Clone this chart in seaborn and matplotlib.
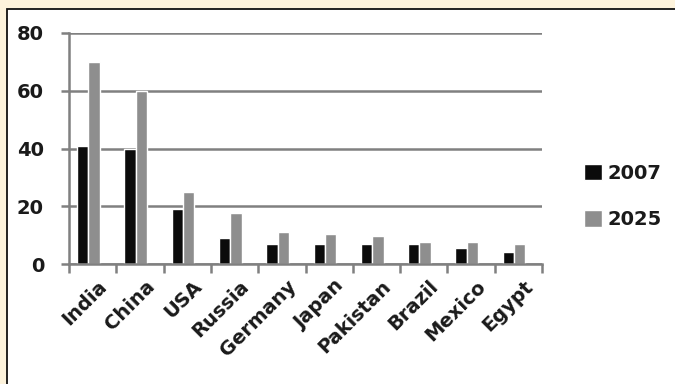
import matplotlib
matplotlib.use("Agg")
import matplotlib.pyplot as plt
from matplotlib.patches import Rectangle
from matplotlib.ticker import FixedLocator
from matplotlib.transforms import ScaledTranslation
import numpy as np
import pandas as pd
import seaborn as sns

countries = ["India", "China", "USA", "Russia", "Germany", "Japan",
             "Pakistan", "Brazil", "Mexico", "Egypt"]
values_2007 = [41, 40, 19, 9, 7, 7, 7, 7, 5.5, 4.3]
values_2025 = [70, 60, 25, 17.5, 11, 10.5, 9.8, 7.7, 7.7, 6.9]
years = ["2007", "2025"]
yticks = [0, 20, 40, 60, 80]

df = pd.DataFrame({
    "country": countries * 2,
    "year": [years[0]] * len(countries) + [years[1]] * len(countries),
    "value": values_2007 + values_2025,
})

sns.set_theme(style="white")
plt.rcParams["font.family"] = ["DejaVu Sans"]

W, H = 675, 384
fig = plt.figure(figsize=(W / 100, H / 100), dpi=100, facecolor="#fdf3dc")

# white panel with dark border
fig.patches.append(Rectangle((6.5 / W, -0.01), 1.0, (H - 9) / H + 0.01,
                             transform=fig.transFigure, facecolor="white",
                             edgecolor="#111111", linewidth=1.3, zorder=-5))

ax = fig.add_axes([69 / W, 120 / H, (542 - 69) / W, (264 - 33) / H])
ax.set_facecolor("none")

palette = {"2007": "#0b0b0b", "2025": "#8e8e8e"}
sns.barplot(data=df, x="country", y="value", hue="year", order=countries,
            hue_order=years, palette=palette, width=0.48, saturation=1,
            ax=ax, zorder=3)
# bar groups sit a little left of the category centre
for bar in ax.patches:
    bar.set_x(bar.get_x() - 0.09)

grid_c = "#808080"
ax.set_ylim(0, 80)
ax.set_xlim(-0.5, len(countries) - 0.5)
ax.set_yticks(yticks)
ax.yaxis.grid(True, color=grid_c, linewidth=1.8, zorder=1)
ax.set_axisbelow(True)
for s in ["top", "right"]:
    ax.spines[s].set_visible(False)
for s in ["left", "bottom"]:
    ax.spines[s].set_color(grid_c)
    ax.spines[s].set_linewidth(1.8)
    ax.spines[s].set_zorder(4)

ax.set_xlabel("")
ax.set_ylabel("")

tick_font = dict(fontsize=14, fontweight="bold", color="#1a1a1a")
ax.tick_params(axis="y", which="major", direction="out", length=6,
               width=1.8, color=grid_c, pad=12, left=True)
for lab in ax.get_yticklabels():
    lab.set(**tick_font)

# category boundary ticks on the x axis
ax.xaxis.set_minor_locator(FixedLocator(np.arange(-0.5, len(countries), 1.0)))
ax.tick_params(axis="x", which="minor", direction="out", length=6.5,
               width=1.8, color=grid_c, bottom=True)
ax.tick_params(axis="x", which="major", length=0, pad=9)
ax.set_xticks(range(len(countries)))
ax.set_xticklabels(countries, rotation=45, ha="right", va="top",
                   rotation_mode="anchor", **tick_font)
shift = ScaledTranslation(5 / 100, 0, fig.dpi_scale_trans)
for lab in ax.get_xticklabels():
    lab.set_transform(lab.get_transform() + shift)

leg = ax.legend(loc="upper left", bbox_to_anchor=(584 / W, (H - 164) / H),
                bbox_transform=fig.transFigure, frameon=False,
                handlelength=0.9, handleheight=0.9, handletextpad=0.3,
                labelspacing=1.4, borderpad=0, borderaxespad=0,
                prop=dict(size=14, weight="bold"))
for t in leg.get_texts():
    t.set_color("#1a1a1a")

fig.savefig("out.png", dpi=100, facecolor=fig.get_facecolor())
